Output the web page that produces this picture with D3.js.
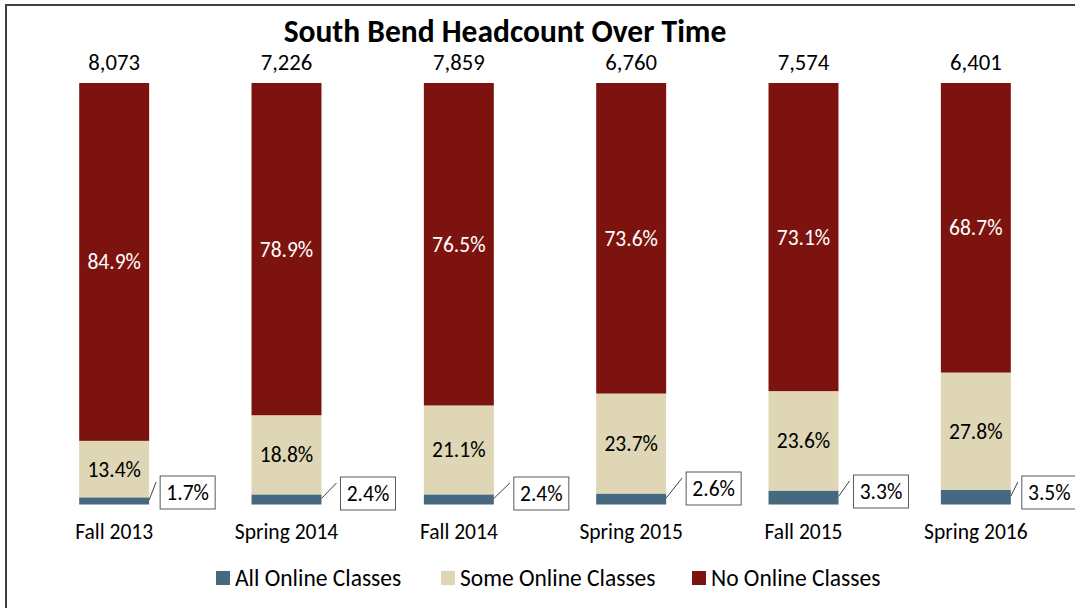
<!DOCTYPE html>
<html>
<head>
<meta charset="utf-8">
<script src="https://cdn.jsdelivr.net/npm/d3@7"></script>
<style>
  body { margin: 0; background: #fff; }
  svg text { font-family: Calibri, Carlito, Lato, sans-serif; }
</style>
</head>
<body>
<svg id="chart" width="1075" height="608"></svg>
<script>
const terms = ["Fall 2013", "Spring 2014", "Fall 2014", "Spring 2015", "Fall 2015", "Spring 2016"];
const headcount = [8073, 7226, 7859, 6760, 7574, 6401];
const allOnline = [1.7, 2.4, 2.4, 2.6, 3.3, 3.5];
const someOnline = [13.4, 18.8, 21.1, 23.7, 23.6, 27.8];
const noOnline = [84.9, 78.9, 76.5, 73.6, 73.1, 68.7];
const seriesNames = ["All Online Classes", "Some Online Classes", "No Online Classes"];

const colors = {
  allOnline: "#46697f",
  someOnline: "#ded6b4",
  noOnline: "#7d130e",
};

// callout box nudges (layout only)
const calloutDx = [11, 19, 20, 20, 15, 11];
const calloutDy = [-12, -11, -11, -16, -13, -12];

const rows = terms.map((t, i) => ({
  term: t,
  allOnline: allOnline[i],
  someOnline: someOnline[i],
  noOnline: noOnline[i],
}));

const keys = ["allOnline", "someOnline", "noOnline"];
const stacked = d3.stack().keys(keys).offset(d3.stackOffsetExpand)(rows);

const svg = d3.select("#chart");

// frame
svg.append("rect")
  .attr("x", 6).attr("y", 5)
  .attr("width", 1200).attr("height", 1000)
  .attr("fill", "#fff")
  .attr("stroke", "#404040")
  .attr("stroke-width", 2);

const x = d3.scaleBand()
  .domain(terms)
  .range([28, 1062])
  .paddingInner(0.594)
  .paddingOuter(0.297);

const y = d3.scaleLinear().domain([0, 1]).range([504.5, 83]);

// title
svg.append("text")
  .attr("x", 505).attr("y", 42)
  .attr("text-anchor", "middle")
  .attr("font-size", 31.5)
  .attr("font-weight", "bold")
  .attr("fill", "#000")
  .text("South Bend Headcount Over Time");

// bars
const layers = svg.append("g").selectAll("g")
  .data(stacked)
  .join("g")
  .attr("fill", (d) => colors[d.key]);

layers.selectAll("rect")
  .data((d) => d)
  .join("rect")
  .attr("x", (d) => x(d.data.term))
  .attr("y", (d) => y(d[1]))
  .attr("width", x.bandwidth())
  .attr("height", (d) => y(d[0]) - y(d[1]));

// inside labels for red and beige
const fmtPct = (v) => v.toFixed(1) + "%";
stacked.filter((s) => s.key !== "allOnline").forEach((s) => {
  svg.append("g").selectAll("text")
    .data(s)
    .join("text")
    .attr("x", (d) => x(d.data.term) + x.bandwidth() / 2)
    .attr("y", (d) => (y(d[0]) + y(d[1])) / 2)
    .attr("dy", "0.35em")
    .attr("text-anchor", "middle")
    .attr("font-size", 21.5)
    .attr("fill", s.key === "noOnline" ? "#fff" : "#000")
    .text((d) => fmtPct(d.data[s.key]));
});

// callouts for all-online
const blue = stacked[0];
const boxW = 55, boxH = 33;
const callouts = svg.append("g").selectAll("g")
  .data(blue)
  .join("g");

callouts.each(function (d, i) {
  const g = d3.select(this);
  const barRight = x(d.data.term) + x.bandwidth();
  const bx = barRight + calloutDx[i];
  const cy = y(0) + calloutDy[i];
  const by = cy - boxH / 2;
  g.append("line")
    .attr("x1", barRight).attr("y1", (y(d[0]) + y(d[1])) / 2 - 1)
    .attr("x2", bx - 4).attr("y2", by + 6)
    .attr("stroke", "#404040")
    .attr("stroke-width", 1);
  g.append("rect")
    .attr("x", bx).attr("y", by)
    .attr("width", boxW).attr("height", boxH)
    .attr("fill", "#fff")
    .attr("stroke", "#595959")
    .attr("stroke-width", 1);
  g.append("text")
    .attr("x", bx + boxW / 2).attr("y", cy)
    .attr("dy", "0.35em")
    .attr("text-anchor", "middle")
    .attr("font-size", 21.5)
    .attr("fill", "#000")
    .text(fmtPct(d.data.allOnline));
});

// headcount totals
svg.append("g").selectAll("text")
  .data(terms)
  .join("text")
  .attr("x", (d) => x(d) + x.bandwidth() / 2)
  .attr("y", 62)
  .attr("dy", "0.35em")
  .attr("text-anchor", "middle")
  .attr("font-size", 22.7)
  .attr("fill", "#000")
  .text((d, i) => d3.format(",")(headcount[i]));

// category axis
const axis = svg.append("g")
  .attr("transform", `translate(0,${y(0)})`)
  .call(d3.axisBottom(x).tickSize(0).tickPadding(19));
axis.select(".domain").remove();
axis.selectAll("text")
  .attr("font-size", 21.5)
  .attr("fill", "#000")
  .style("font-family", "Calibri, Carlito, Lato, sans-serif");

// legend
const legendX = [216, 441, 692];
const legend = svg.append("g").selectAll("g")
  .data(keys)
  .join("g")
  .attr("transform", (d, i) => `translate(${legendX[i]},578)`);
legend.append("rect")
  .attr("x", 0).attr("y", -7)
  .attr("width", 14).attr("height", 14)
  .attr("fill", (d) => colors[d]);
legend.append("text")
  .attr("x", 19).attr("y", 0)
  .attr("dy", "0.35em")
  .attr("font-size", 23.5)
  .attr("fill", "#000")
  .text((d, i) => seriesNames[i]);
</script>
</body>
</html>
